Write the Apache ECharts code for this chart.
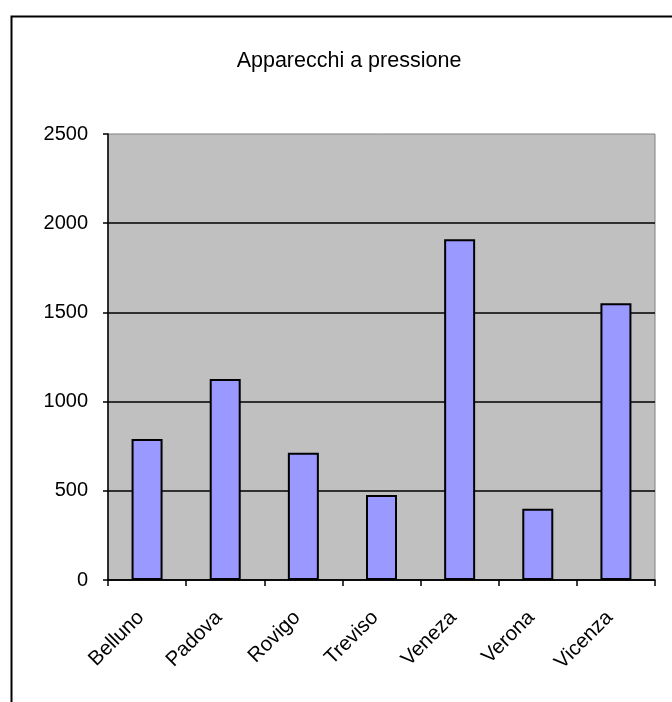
<!DOCTYPE html>
<html>
<head>
<meta charset="utf-8">
<script src="https://cdn.jsdelivr.net/npm/echarts@6/dist/echarts.min.js"></script>
<style>
html,body{margin:0;padding:0;background:#fff;}
#c{width:672px;height:702px;}
</style>
</head>
<body>
<div id="c"></div>
<script>
const titleText = 'Apparecchi a pressione';
const categories = ['Belluno', 'Padova', 'Rovigo', 'Treviso', 'Veneza', 'Verona', 'Vicenza'];
const values = [790, 1127, 713, 477, 1910, 399, 1551];
const yTicks = [0, 500, 1000, 1500, 2000, 2500];

const chart = echarts.init(document.getElementById('c'), null, {renderer: 'canvas'});
const font = 'Liberation Sans, Arial, sans-serif';
chart.setOption({
  animation: false,
  backgroundColor: '#ffffff',
  graphic: [{
    type: 'rect', left: 9, top: 14, z: 0,
    shape: {x: 0, y: 0, width: 720, height: 720},
    style: {fill: 'none', stroke: '#000', lineWidth: 2}
  }],
  title: {
    text: titleText, left: 344, top: 45, textAlign: 'center',
    textStyle: {fontFamily: font, fontSize: 21.5, fontWeight: 'normal', color: '#000'}
  },
  grid: {
    left: 108, top: 134, right: 17, bottom: 122,
    show: true, backgroundColor: '#c0c0c0', borderColor: '#808080', borderWidth: 1
  },
  xAxis: {
    type: 'category', data: categories,
    axisLine: {lineStyle: {color: '#000', width: 1.5}},
    axisTick: {show: true, length: 6, lineStyle: {color: '#000', width: 1.5}},
    axisLabel: {rotate: 45, margin: 28, padding: [0, 9, 0, 0], color: '#000', fontFamily: font, fontSize: 20.5}
  },
  yAxis: {
    type: 'value', min: yTicks[0], max: yTicks[yTicks.length - 1], interval: 500,
    axisLine: {show: true, lineStyle: {color: '#000', width: 1.5}},
    axisTick: {show: true, length: 5, lineStyle: {color: '#000', width: 1.5}},
    axisLabel: {margin: 20, color: '#000', fontFamily: font, fontSize: 20, formatter: v => String(v)},
    splitLine: {show: true, showMaxLine: false, lineStyle: {color: '#000', width: 1.5}}
  },
  series: [{
    type: 'bar', data: values, barWidth: 31,
    itemStyle: {color: '#9999ff', borderColor: '#000', borderWidth: 2}
  }]
});
</script>
</body>
</html>
